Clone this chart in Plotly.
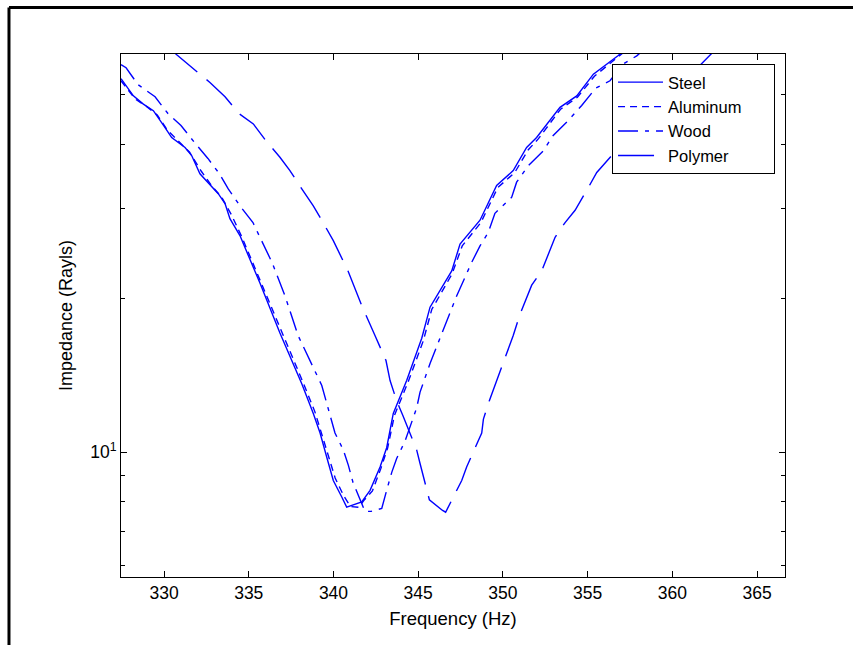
import plotly.graph_objects as go

# ---- data ----
steel_freq = [327.46, 328.19, 328.78, 329.37, 330.06, 330.45, 331.24, 331.63, 332.12, 332.52,
              333.20, 333.60, 333.89, 334.48, 335.66, 336.84, 338.13, 338.81, 339.21, 339.60,
              339.99, 340.49, 340.78, 341.67, 342.16, 342.75, 343.14, 343.53, 344.32, 345.21,
              345.70, 346.98, 347.47, 348.65, 349.63, 350.61, 351.40, 351.99, 353.37, 354.36,
              355.34, 356.81, 357.40]
steel_imp = [53.7, 49.7, 47.9, 46.5, 43.1, 41.2, 39.4, 38.0, 35.0, 33.9,
             32.0, 30.6, 28.6, 26.5, 21.4, 17.1, 13.6, 11.9, 10.9, 9.78,
             8.80, 8.17, 7.81, 7.99, 8.42, 9.35, 10.2, 11.9, 13.8, 16.7,
             19.2, 22.6, 25.5, 28.4, 33.2, 35.5, 39.4, 41.2, 47.2, 49.7,
             54.8, 59.6, 62.0]

alum_freq = [327.46, 328.30, 329.00, 329.60, 330.20, 330.90, 331.50, 332.20, 332.80, 333.40,
             334.00, 334.60, 335.70, 336.90, 338.20, 338.90, 339.30, 339.70, 340.10, 340.60,
             341.00, 341.50, 341.80, 342.30, 342.80, 343.20, 343.60, 344.40, 345.30, 345.80,
             347.00, 347.60, 348.70, 349.70, 350.70, 351.50, 352.10, 353.40, 354.40, 355.40,
             356.80, 357.40]
alum_imp = [53.2, 49.0, 47.3, 45.6, 42.6, 40.3, 38.6, 35.4, 33.2, 31.5,
            29.0, 26.3, 21.6, 17.3, 13.7, 12.0, 10.9, 9.85, 8.90, 8.22,
            7.83, 7.80, 8.05, 8.40, 9.30, 10.2, 11.8, 13.7, 16.5, 19.0,
            22.3, 25.3, 28.1, 32.9, 35.2, 39.0, 41.0, 46.8, 49.4, 54.3,
            59.2, 61.5]

wood_freq = [327.46, 327.76, 328.46, 329.47, 330.23, 331.00, 331.77, 332.59, 333.27, 333.79,
             334.48, 335.25, 335.66, 336.37, 337.14, 337.91, 339.31, 339.60, 339.80, 340.09,
             340.58, 340.88, 341.15, 341.57, 341.86, 342.22, 342.85, 343.14, 343.44, 343.73,
             344.22, 344.91, 345.11, 345.70, 346.48, 347.27, 348.16, 348.65, 349.14, 349.53,
             350.52, 350.81, 351.50, 352.38, 352.97, 353.86, 354.65, 355.49, 356.32, 357.11,
             357.90, 358.40]
wood_imp = [57.2, 56.4, 52.3, 49.5, 45.9, 43.5, 40.4, 37.5, 35.0, 32.7,
            30.3, 28.1, 26.3, 23.5, 20.2, 16.9, 13.5, 12.5, 11.8, 10.9,
            10.1, 9.42, 8.73, 8.05, 7.66, 7.66, 7.76, 8.42, 9.13, 9.72,
            10.5, 12.2, 13.1, 14.9, 17.3, 20.2, 23.5, 25.3, 26.9, 29.3,
            31.5, 33.7, 36.3, 38.8, 41.6, 44.5, 47.6, 51.5, 53.2, 57.4,
            59.5, 61.5]

poly_freq = [330.35, 330.75, 332.00, 332.71, 333.60, 334.42, 335.27, 336.02, 336.84, 337.43,
             338.08, 338.81, 339.31, 339.99, 340.86, 341.68, 342.45, 343.10, 343.34, 343.73,
             344.09, 344.91, 345.11, 345.66, 346.44, 346.62, 347.57, 347.86, 348.75, 348.85,
             349.20, 350.61, 351.01, 351.70, 352.29, 353.08, 353.67, 354.26, 355.04, 355.54,
             356.42, 358.09, 359.86, 361.73, 362.12, 362.50]
poly_imp = [61.5, 59.8, 55.2, 52.8, 49.5, 45.9, 43.8, 40.6, 37.7, 35.5,
            32.9, 30.3, 28.4, 25.9, 22.6, 19.3, 16.9, 15.1, 13.8, 12.6,
            11.8, 10.1, 9.50, 8.07, 7.69, 7.63, 8.80, 9.35, 10.9, 11.6,
            12.6, 16.9, 18.6, 21.2, 22.6, 26.3, 28.1, 29.7, 32.9, 35.2,
            38.0, 43.1, 49.7, 57.4, 59.1, 61.0]

series_names = ["Steel", "Aluminum", "Wood", "Polymer"]
x_ticks = [330, 335, 340, 345, 350, 355, 360, 365]
y_major = [10]
y_major_text = ["10<sup>1</sup>"]
y_minor = [6, 7, 8, 9, 20, 30, 40, 50]

# ---- figure ----
FONT = "Liberation Sans"
BLUE = "#0000FF"
dashes = ["solid", "7px,5px", "20px,7px,4px,7px", "36px,12px"]
xs = [steel_freq, alum_freq, wood_freq, poly_freq]
ys = [steel_imp, alum_imp, wood_imp, poly_imp]
# trailing non-breaking spaces only widen the legend box to the reference's width
pad = {"Aluminum": "\u00a0" * 6}

fig = go.Figure()
for name, x, y, d in zip(series_names, xs, ys, dashes):
    fig.add_trace(go.Scatter(x=x, y=y, mode="lines", name=name + pad.get(name, ""),
                             line=dict(color=BLUE, width=1.4, dash=d)))

fig.update_layout(
    width=853, height=645,
    margin=dict(l=121, r=68, t=54, b=68),
    paper_bgcolor="white", plot_bgcolor="white",
    font=dict(family=FONT, size=18, color="black"),
    showlegend=True,
    legend=dict(x=0.7395, y=0.981, xanchor="left", yanchor="top",
                bgcolor="white", bordercolor="black", borderwidth=1,
                font=dict(family=FONT, size=16.5, color="black"),
                itemwidth=45, tracegroupgap=0),
    xaxis=dict(range=[327.46, 366.65], tickvals=x_ticks, ticks="inside", ticklen=6,
               tickcolor="black", showline=True, linecolor="black", linewidth=1,
               mirror="ticks", showgrid=False, zeroline=False,
               title=dict(text="Frequency (Hz)", standoff=10, font=dict(size=18.5)),
               tickfont=dict(family=FONT, size=17.5), automargin=False),
    yaxis=dict(type="log", range=[0.7559, 1.7782], tickvals=y_major, ticktext=y_major_text,
               ticks="inside", ticklen=6, tickcolor="black",
               minor=dict(tickvals=y_minor, ticks="inside", ticklen=4, tickcolor="black",
                          showgrid=False),
               showline=True, linecolor="black", linewidth=1, mirror="ticks",
               showgrid=False, zeroline=False,
               title=dict(text="Impedance (Rayls)", standoff=12, font=dict(size=18)),
               tickfont=dict(family=FONT, size=17.5), automargin=False),
    shapes=[
        dict(type="line", xref="paper", yref="paper", x0=-0.1687, x1=-0.1687,
             y0=-0.2, y1=1.0889, line=dict(color="black", width=3)),
        dict(type="line", xref="paper", yref="paper", x0=-0.1687, x1=1.2,
             y0=1.0889, y1=1.0889, line=dict(color="black", width=3)),
    ],
)

fig.write_html("out.html")
